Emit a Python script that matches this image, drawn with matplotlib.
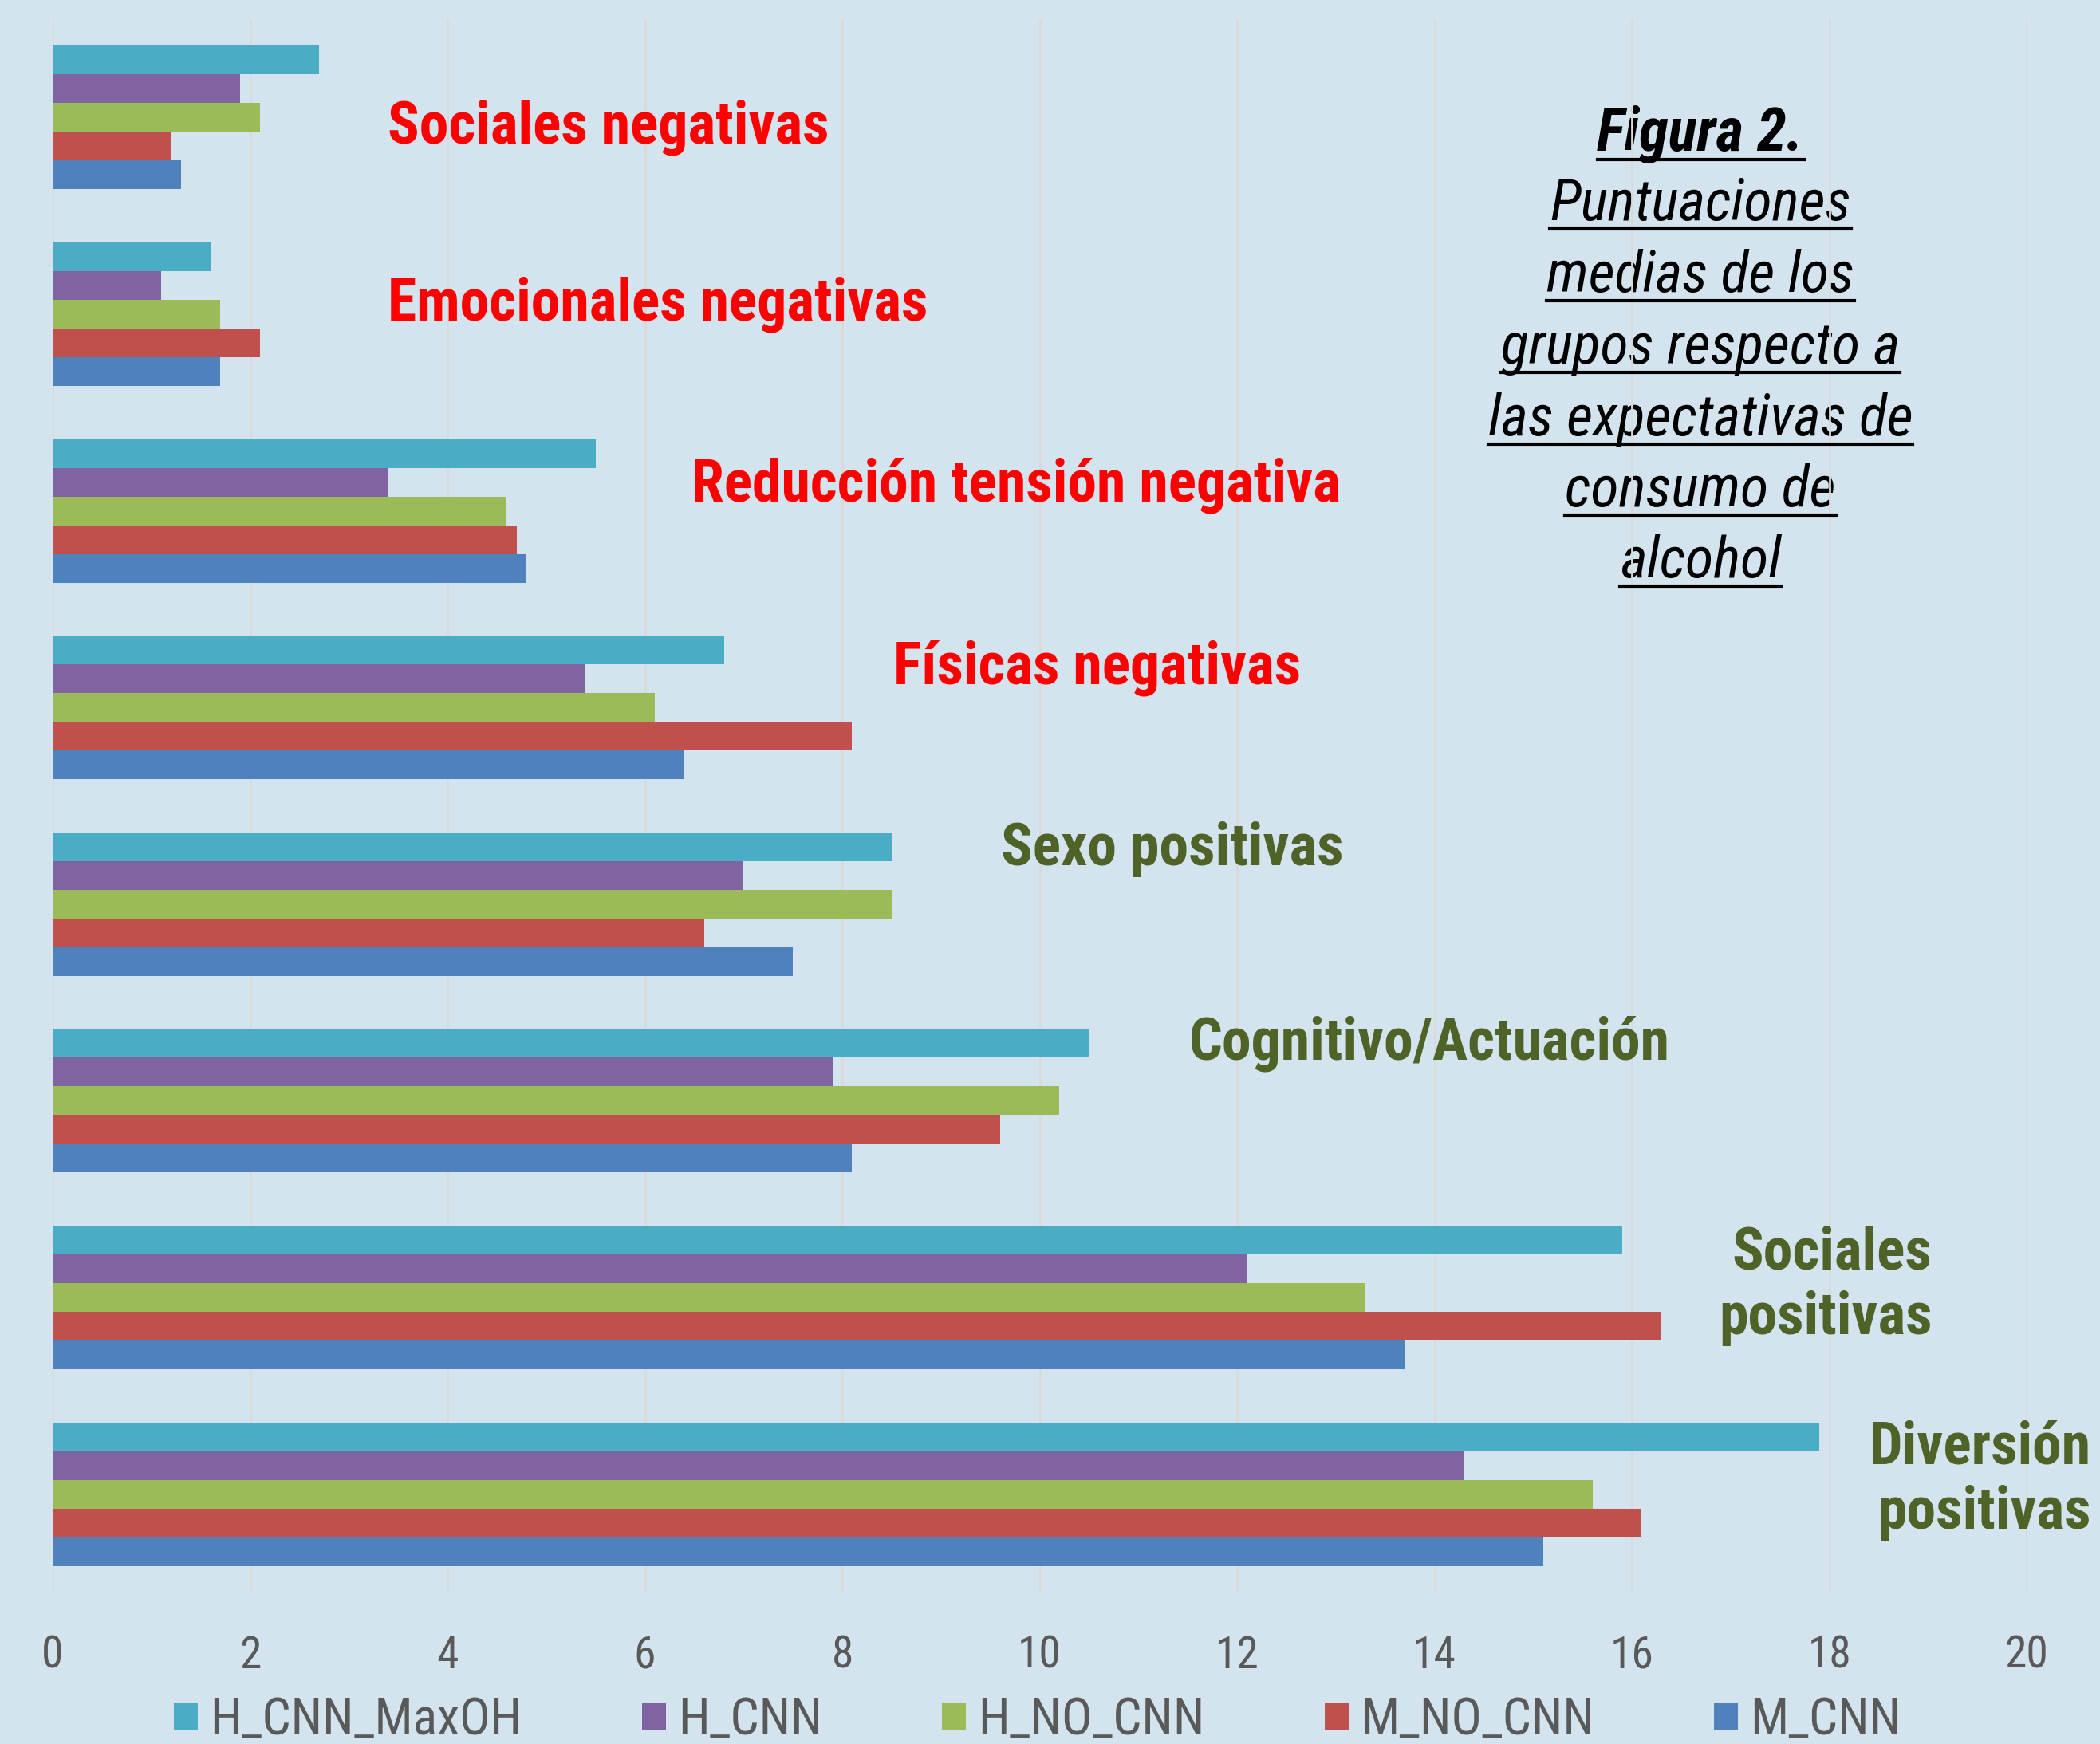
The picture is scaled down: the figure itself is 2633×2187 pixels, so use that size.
import matplotlib.pyplot as plt
import numpy as np
from matplotlib import font_manager
from matplotlib.lines import Line2D
from matplotlib.patches import Patch

# Datos (orden de arriba a abajo)
categories = ['Sociales negativas', 'Emocionales negativas', 'Reducción tensión negativa',
              'Físicas negativas', 'Sexo positivas', 'Cognitivo/Actuación',
              'Sociales\npositivas', 'Diversión\npositivas']
series_names = ['H_CNN_MaxOH', 'H_CNN', 'H_NO_CNN', 'M_NO_CNN', 'M_CNN']
h_cnn_maxoh = [2.7, 1.6, 5.5, 6.8, 8.5, 10.5, 15.9, 17.9]
h_cnn = [1.9, 1.1, 3.4, 5.4, 7.0, 7.9, 12.1, 14.3]
h_no_cnn = [2.1, 1.7, 4.6, 6.1, 8.5, 10.2, 13.3, 15.6]
m_no_cnn = [1.2, 2.1, 4.7, 8.1, 6.6, 9.6, 16.3, 16.1]
m_cnn = [1.3, 1.7, 4.8, 6.4, 7.5, 8.1, 13.7, 15.1]
x_ticks = [0, 2, 4, 6, 8, 10, 12, 14, 16, 18, 20]

caption = ['Figura 2.', 'Puntuaciones', 'medias de los', 'grupos respecto a',
           'las expectativas de', 'consumo de', 'alcohol']

colors = ['#4BACC6', '#8064A2', '#9BBB59', '#C0504D', '#4F81BD']
label_colors = ['#FF0000'] * 4 + ['#4F6228'] * 4
# posicion de las etiquetas (x en datos, y en categorias, alineacion)
label_pos = [(3.39, 0.05, 'left'), (3.39, 0.95, 'left'), (6.47, 1.87, 'left'),
             (8.52, 2.80, 'left'), (9.61, 3.72, 'left'), (11.51, 4.71, 'left'),
             (19.04, 5.94, 'right'), (20.65, 6.93, 'right')]

bg = '#D3E4EE'
W, H = 2633, 2187


def pick_font(style='normal', bold=False):
    cands = ['Liberation Sans Narrow', 'Arial Narrow', 'Roboto Condensed', 'Archivo Narrow',
             'PT Sans Narrow', 'Fira Sans Condensed', 'Sofia Sans Semi Condensed']
    fl = font_manager.fontManager.ttflist
    for name in cands:
        for f in fl:
            w = f.weight if isinstance(f.weight, int) else (700 if 'bold' in str(f.weight) else 400)
            if f.name == name and f.style == style and ((w >= 600) == bold):
                return name
    return 'Liberation Sans'


f_reg = pick_font()
f_bold = pick_font(bold=True)
f_ital = pick_font(style='italic')
f_bital = pick_font(style='italic', bold=True)

fig = plt.figure(figsize=(W / 100, H / 100), dpi=100, facecolor=bg)
ax = fig.add_axes([0.0251, 0.0869, 0.9400, 0.9021], facecolor=bg)

y = np.arange(len(categories))
h = 0.146
all_series = [h_cnn_maxoh, h_cnn, h_no_cnn, m_no_cnn, m_cnn]
for i, (vals, c) in enumerate(zip(all_series, colors)):
    ax.barh(y + (i - 2) * h, vals, height=h, color=c, zorder=2)

ax.set_xlim(0, 20)
ax.set_ylim(len(categories) - 0.5, -0.5)
ax.set_xticks(x_ticks)
ax.set_yticks([])
ax.xaxis.grid(True, color='#D9D9D9', linewidth=2)
ax.set_axisbelow(True)
for s in ax.spines.values():
    s.set_visible(False)
ax.tick_params(axis='x', length=0, pad=38, labelsize=40, labelcolor='#595959')
for lb in ax.get_xticklabels():
    lb.set_fontfamily(f_reg)

for cat, (lx, ly, ha), lc in zip(categories, label_pos, label_colors):
    ax.text(lx, ly, cat, ha=ha, va='center', multialignment=ha, color=lc,
            fontsize=53, fontweight='bold', family=f_bold)

# leyenda
handles = [Patch(facecolor=c, edgecolor='none') for c in colors]
leg = fig.legend(handles, series_names, loc='center', bbox_to_anchor=(0.494, 0.0135),
                 ncol=5, frameon=False, prop={'family': f_reg, 'size': 46},
                 handlelength=0.47, handleheight=0.47, handletextpad=0.23,
                 columnspacing=2.36, borderaxespad=0, borderpad=0)
for t in leg.get_texts():
    t.set_color('#595959')

# titulo de la figura, subrayado
cx = 2132 / W
baselines = [189, 276, 366, 456, 546, 635, 724]
cap_texts = []
for k, (line, by) in enumerate(zip(caption, baselines)):
    t = ax.text(cx, 1 - by / H, line, transform=fig.transFigure, ha='center',
                va='baseline', fontsize=54 if k == 0 else 52,
                fontweight='bold' if k == 0 else 'normal', fontstyle='italic',
                family=f_bital if k == 0 else f_ital, color='black', zorder=0.4)
    cap_texts.append((t, by))

fig.canvas.draw()
for t, by in cap_texts:
    bb = t.get_window_extent()
    uy = 1 - (by + 11) / H
    fig.add_artist(Line2D([bb.x0 / W, bb.x1 / W], [uy, uy], color='black', linewidth=3))

fig.savefig('out.png', dpi=100, facecolor=bg)
